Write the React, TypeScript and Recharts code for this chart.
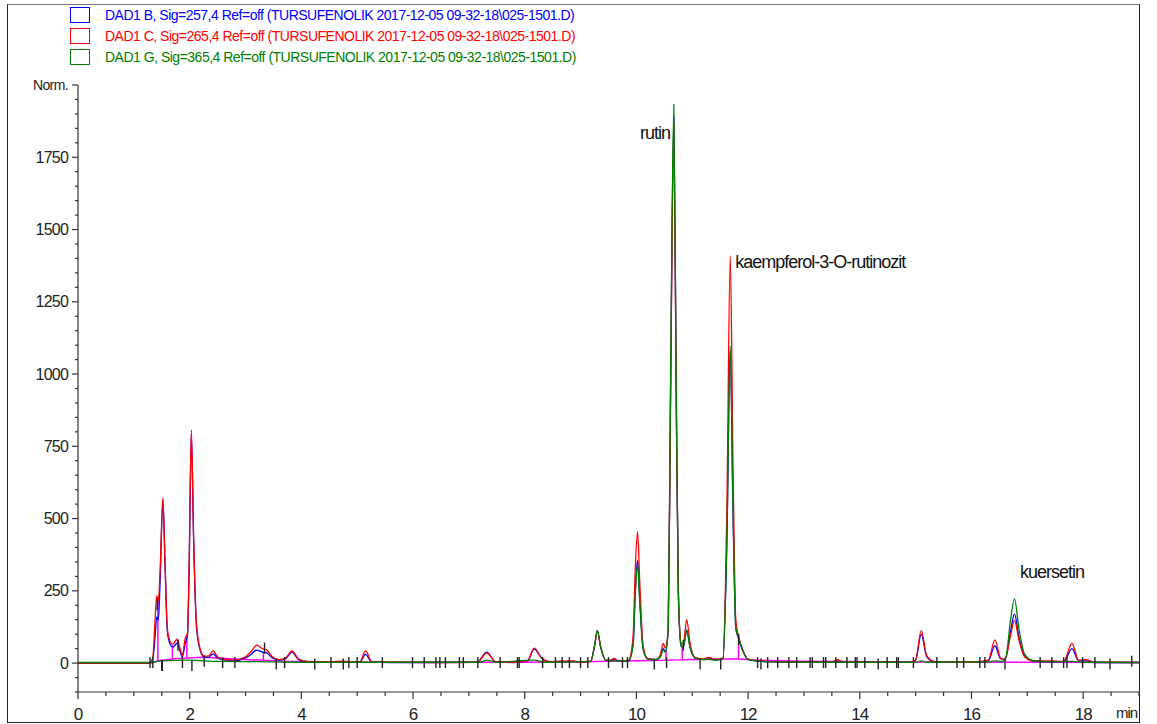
import { ComposedChart, Line, XAxis, YAxis, ReferenceDot } from 'recharts'

type Pt = [number, number]

const SIG_B: Pt[] = [
  [0, 0], [1.28, 0], [1.34, 15], [1.38, 90], [1.41, 160], [1.44, 150], [1.47, 280], [1.52, 565], [1.56, 330],
  [1.6, 110], [1.65, 65], [1.7, 55], [1.75, 65], [1.78, 70], [1.82, 45], [1.87, 22], [1.92, 70], [1.96, 95],
  [1.99, 320], [2.03, 790], [2.07, 430], [2.12, 130], [2.18, 50], [2.25, 22], [2.33, 20], [2.42, 32], [2.5, 18],
  [2.6, 12], [2.8, 8], [3.0, 18], [3.1, 30], [3.2, 45], [3.3, 38], [3.38, 35], [3.48, 18], [3.6, 10], [3.72, 15],
  [3.83, 38], [3.95, 12], [4.1, 5], [4.5, 3], [4.72, 5], [4.9, 3], [5.05, 4], [5.15, 30], [5.26, 4], [5.6, 2],
  [6.5, 2], [7.15, 3], [7.32, 38], [7.48, 4], [7.8, 2], [8.05, 8], [8.17, 48], [8.3, 18], [8.45, 5], [8.88, 6],
  [8.98, 3], [9.18, 6], [9.25, 60], [9.3, 112], [9.36, 55], [9.45, 10], [9.53, 8], [9.6, 12], [9.68, 6], [9.86, 8],
  [9.94, 70], [9.98, 250], [10.02, 355], [10.06, 220], [10.12, 50], [10.2, 15], [10.35, 12], [10.43, 25],
  [10.48, 50], [10.52, 40], [10.57, 120], [10.61, 900], [10.67, 1890], [10.71, 1000], [10.75, 250], [10.8, 60],
  [10.84, 55], [10.9, 115], [10.96, 55], [11.05, 18], [11.2, 12], [11.3, 18], [11.42, 10], [11.55, 15],
  [11.62, 420], [11.68, 1080], [11.73, 520], [11.78, 120], [11.84, 80], [11.9, 45], [12.0, 12], [12.3, 5],
  [13.0, 3], [13.5, 3], [13.6, 8], [13.7, 3], [14.9, 3], [15.0, 10], [15.1, 100], [15.2, 22], [15.35, 4], [16.0, 3],
  [16.3, 8], [16.42, 60], [16.52, 15], [16.6, 12], [16.7, 110], [16.77, 170], [16.85, 90], [16.95, 25], [17.1, 8],
  [17.4, 5], [17.65, 5], [17.8, 50], [17.92, 8], [18.05, 8], [18.2, 2], [19, 2],
]

const SIG_C: Pt[] = [
  [0, 0], [1.28, 0], [1.34, 20], [1.38, 150], [1.41, 233], [1.44, 215], [1.47, 320], [1.52, 572], [1.56, 340],
  [1.6, 120], [1.65, 75], [1.7, 65], [1.75, 78], [1.78, 82], [1.82, 55], [1.87, 28], [1.92, 85], [1.96, 103],
  [1.99, 340], [2.03, 807], [2.07, 440], [2.12, 140], [2.18, 55], [2.25, 25], [2.33, 24], [2.42, 42], [2.5, 22],
  [2.6, 14], [2.8, 10], [3.0, 22], [3.1, 40], [3.2, 62], [3.3, 50], [3.38, 45], [3.48, 22], [3.6, 12], [3.72, 18],
  [3.83, 42], [3.95, 14], [4.1, 6], [4.5, 4], [4.72, 7], [4.9, 4], [5.05, 5], [5.15, 42], [5.26, 5], [5.6, 3],
  [6.5, 2], [7.15, 3], [7.32, 35], [7.48, 4], [7.8, 3], [8.05, 8], [8.17, 52], [8.3, 18], [8.45, 5], [8.88, 8],
  [8.98, 3], [9.18, 6], [9.25, 58], [9.3, 110], [9.36, 55], [9.45, 10], [9.53, 10], [9.6, 16], [9.68, 7], [9.86, 10],
  [9.94, 90], [9.98, 330], [10.02, 455], [10.06, 280], [10.12, 60], [10.2, 16], [10.35, 12], [10.43, 30],
  [10.48, 68], [10.52, 52], [10.57, 120], [10.61, 880], [10.67, 1860], [10.71, 990], [10.75, 250], [10.8, 70],
  [10.84, 65], [10.9, 150], [10.96, 70], [11.05, 20], [11.2, 14], [11.3, 20], [11.42, 12], [11.55, 18],
  [11.62, 540], [11.68, 1410], [11.73, 680], [11.78, 150], [11.84, 85], [11.9, 48], [12.0, 14], [12.3, 6],
  [13.0, 3], [13.5, 4], [13.6, 12], [13.7, 4], [14.9, 3], [15.0, 12], [15.1, 112], [15.2, 25], [15.35, 5], [16.0, 3],
  [16.3, 10], [16.42, 80], [16.52, 18], [16.6, 12], [16.7, 95], [16.77, 148], [16.85, 80], [16.95, 22], [17.1, 8],
  [17.4, 8], [17.65, 6], [17.8, 68], [17.92, 10], [18.05, 12], [18.2, 3], [19, 2],
]

const SIG_G: Pt[] = [
  [0, 2], [1.3, 2], [1.5, 8], [2.0, 10], [2.5, 6], [3.2, 5], [4.0, 3], [7.2, 3], [7.32, 10], [7.48, 3], [8.17, 10],
  [8.35, 3], [9.18, 6], [9.25, 60], [9.3, 113], [9.36, 56], [9.45, 10], [9.6, 8], [9.86, 8], [9.94, 60],
  [9.98, 240], [10.02, 340], [10.06, 210], [10.12, 48], [10.2, 14], [10.35, 12], [10.43, 22], [10.48, 45],
  [10.52, 38], [10.57, 120], [10.61, 940], [10.67, 1932], [10.71, 1020], [10.75, 250], [10.8, 60], [10.84, 55],
  [10.9, 112], [10.96, 55], [11.05, 17], [11.2, 12], [11.3, 13], [11.42, 10], [11.55, 15], [11.62, 430],
  [11.68, 1097], [11.73, 530], [11.78, 120], [11.84, 80], [11.9, 45], [12.0, 12], [12.3, 5], [13.0, 3], [15.0, 3],
  [15.1, 8], [15.2, 3], [16.3, 4], [16.42, 8], [16.55, 6], [16.62, 25], [16.7, 150], [16.77, 222], [16.85, 120],
  [16.95, 32], [17.1, 9], [17.4, 4], [17.8, 6], [18.0, 3], [19, 2],
]

// integration baseline with drop lines
const BASELINE: Pt[] = [
  [0, 0], [1.3, 0], [1.43, 8], [1.43, 220], [1.43, 8], [1.69, 14], [1.69, 62], [1.69, 14], [1.95, 18], [1.95, 95],
  [1.95, 18], [2.25, 20], [2.8, 14], [3.32, 10], [3.32, 40], [3.32, 10], [3.7, 6], [4.5, 4], [6, 3], [8, 3], [9, 5],
  [10, 8], [10.53, 10], [10.53, 45], [10.53, 10], [10.82, 12], [10.82, 58], [10.82, 12], [11.5, 14], [11.83, 14],
  [11.83, 82], [11.83, 14], [12.2, 10], [13, 6], [15, 4], [17, 3], [19, 2],
]

const EVENT_TIMES = [
  1.29, 1.34, 1.42, 1.5, 1.51, 1.79, 1.87, 2.04, 2.26, 2.59, 2.81, 3.34, 3.55, 3.7, 4.24, 4.53, 4.75, 4.85, 5.0,
  5.45, 5.99, 6.2, 6.41, 6.48, 6.58, 6.83, 6.9, 7.16, 7.56, 7.87, 7.9, 8.32, 8.55, 8.67, 8.8, 9.0, 9.13, 9.5, 9.75,
  9.84, 10.32, 10.54, 10.84, 11.14, 11.51, 11.83, 12.17, 12.23, 12.35, 12.53, 12.73, 12.87, 13.11, 13.15, 13.35,
  13.39, 13.57, 13.77, 13.92, 13.95, 14.09, 14.33, 14.49, 14.66, 14.69, 14.96, 15.38, 15.74, 15.86, 16.15, 16.24,
  16.6, 17.23, 17.44, 17.65, 17.71, 17.99, 18.21, 18.48, 18.87,
]
const EVENT_LEVELS = [
  0, 0, 200, -10, -10, 60, 0, -10, 5, 0, 0, 50, -5, 0, -5, 0, -5, 0, 0,
  0, 0, 0, 0, 0, 0, 0, 0, 0, 0, 0, 0, 0, 0, 0, 0, 0, 0, 0, 0,
  0, -5, 0, 60, -5, -5, 80, 0, -5, 0, 0, 0, 0, 0, 0, 0,
  0, 0, 0, 0, 0, 0, -5, 0, 0, 0, 0, 0, 0, 0, 0, 0,
  -5, 0, 0, 0, 0, 0, 0, -5, 5,
]

const LEGEND = [
  { label: 'DAD1 B, Sig=257,4 Ref=off (TURSUFENOLIK 2017-12-05 09-32-18\\025-1501.D)', color: '#0000ff' },
  { label: 'DAD1 C, Sig=265,4 Ref=off (TURSUFENOLIK 2017-12-05 09-32-18\\025-1501.D)', color: '#ff0000' },
  { label: 'DAD1 G, Sig=365,4 Ref=off (TURSUFENOLIK 2017-12-05 09-32-18\\025-1501.D)', color: '#008000' },
]

const PEAK_NAMES = ['rutin', 'kaempferol-3-O-rutinozit', 'kuersetin']
const PEAK_LABEL_T = [10.6, 11.77, 16.87]
const PEAK_LABEL_V = [1834, 1388, 315]
const PEAK_ANCHOR = ['end', 'start', 'start']

const X_TICKS = Array.from({ length: 39 }, (_, i) => i * 0.5)
const Y_TICKS = Array.from({ length: 43 }, (_, i) => -100 + i * 50)

const FONT = "'Liberation Sans Narrow', 'Arial Narrow', 'Liberation Sans', sans-serif"
const AXIS = '#333'

const toRows = (pts: Pt[]) => pts.map(([t, v]) => ({ t, v }))

function XTick({ x, y, payload }: any) {
  const major = payload.value % 2 === 0
  return (
    <g>
      <line x1={x} x2={x} y1={y} y2={y + (major ? 7 : 4)} stroke={AXIS} strokeWidth={1.2} />
      {major && (
        <text x={x} y={y + 22} textAnchor="middle" dominantBaseline="central" fontSize={17} letterSpacing={-1} fill="#222" fontFamily={FONT}>
          {payload.value}
        </text>
      )}
    </g>
  )
}

function YTick({ x, y, payload }: any) {
  const v = payload.value
  const major = v % 250 === 0 && v >= 0
  const top = v === 2000
  return (
    <g>
      <line x1={x} x2={x - (major ? 6 : 3)} y1={y} y2={y} stroke={AXIS} strokeWidth={1.2} />
      {major && (
        <text x={x - 10} y={y} textAnchor="end" dominantBaseline="central" fontSize={top ? 14 : 16} letterSpacing={top ? -0.6 : -0.8} fill="#222" fontFamily={FONT}>
          {top ? 'Norm.' : v}
        </text>
      )}
    </g>
  )
}

function EventMark({ cx, cy, index }: any) {
  return <line key={`ev-${index}`} x1={cx} x2={cx} y1={cy - 6} y2={cy + 5} stroke="#222" strokeWidth={1.4} />
}

export default function App() {
  const events = EVENT_TIMES.map((t, i) => ({ t, v: EVENT_LEVELS[i] }))
  return (
    <div style={{ position: 'absolute', left: 0, top: 0, width: 1157, height: 724, background: '#fff' }}>
      <div style={{ position: 'absolute', left: 7, top: 4, width: 1131, height: 717, borderTop: '1.5px solid #777', borderLeft: '1.5px solid #222', borderRight: '1.5px solid #222', borderBottom: '1.5px solid #222' }} />
      {LEGEND.map((item, i) => (
        <div key={i} style={{ position: 'absolute', left: 70, top: 7 + i * 21, height: 16, display: 'flex', alignItems: 'center' }}>
          <div style={{ width: 18, height: 14, border: `1px solid ${item.color}` }} />
          <span style={{ marginLeft: 15, color: item.color, fontFamily: FONT, fontSize: 14, letterSpacing: -0.5, whiteSpace: 'nowrap' }}>{item.label}</span>
        </div>
      ))}
      <div style={{ position: 'absolute', left: 0, top: 0 }}>
        <ComposedChart width={1157} height={724} margin={{ top: 85, right: 18, bottom: 0, left: 0 }}>
          <XAxis
            type="number"
            dataKey="t"
            domain={[0, 19]}
            ticks={X_TICKS}
            interval={0}
            height={32}
            tickSize={0}
            tickMargin={0}
            tickLine={false}
            axisLine={{ stroke: AXIS, strokeWidth: 1.2 }}
            tick={<XTick />}
            allowDataOverflow
          />
          <YAxis
            type="number"
            dataKey="v"
            domain={[-100, 2000]}
            ticks={Y_TICKS}
            interval={0}
            width={78}
            tickSize={0}
            tickMargin={0}
            tickLine={false}
            axisLine={{ stroke: AXIS, strokeWidth: 1.2 }}
            tick={<YTick />}
            allowDataOverflow
          />
          <Line data={toRows(BASELINE)} dataKey="v" type="linear" stroke="#ff00ff" strokeWidth={1.5} dot={false} isAnimationActive={false} />
          <Line data={toRows(SIG_B)} dataKey="v" type="monotone" stroke="#0000ff" strokeWidth={1.3} dot={false} isAnimationActive={false} />
          <Line data={toRows(SIG_C)} dataKey="v" type="monotone" stroke="#ff0000" strokeWidth={1.3} dot={false} isAnimationActive={false} />
          <Line data={toRows(SIG_G)} dataKey="v" type="monotone" stroke="#008000" strokeWidth={1.3} dot={false} isAnimationActive={false} />
          <Line data={events} dataKey="v" type="linear" stroke="none" dot={<EventMark />} isAnimationActive={false} />
          {PEAK_NAMES.map((name, i) => (
            <ReferenceDot
              key={name}
              x={PEAK_LABEL_T[i]}
              y={PEAK_LABEL_V[i]}
              r={0}
              stroke="none"
              label={(props: any) => (
                <text
                  x={props.viewBox.x}
                  y={props.viewBox.y}
                  textAnchor={PEAK_ANCHOR[i] as any}
                  dominantBaseline="central"
                  fontSize={18}
                  letterSpacing={-1}
                  fill="#111"
                  fontFamily={FONT}
                >
                  {name}
                </text>
              )}
            />
          ))}
        </ComposedChart>
      </div>
      <div style={{ position: 'absolute', left: 1116, top: 704, fontFamily: FONT, fontSize: 15, letterSpacing: -1, color: '#222', whiteSpace: 'nowrap' }}>min</div>
    </div>
  )
}
